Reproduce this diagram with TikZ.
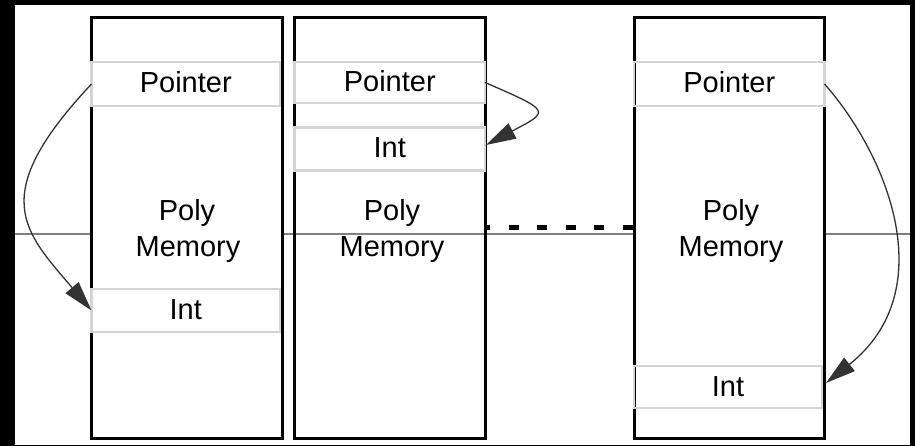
\documentclass[tikz,border=0pt]{standalone}
\usepackage{fontspec}
\setmainfont{Liberation Sans}
\usetikzlibrary{arrows.meta,calc}
\definecolor{cellgray}{HTML}{D4D4D4}
\definecolor{rulegray}{HTML}{808080}
\tikzset{
  membox/.style={draw=black, line width=3pt, outer sep=0pt, inner sep=0pt,
                 minimum height=420pt},
  cell/.style={draw=cellgray, line width=2.5pt, inner sep=0pt, outer sep=0pt,
               text height=20pt, text depth=2pt,
               font=\fontsize{29}{34}\selectfont},
  memtext/.style={anchor=base, inner sep=0pt, font=\fontsize{29}{34}\selectfont},
  link/.style={draw=black!80, line width=1.3pt,
               -{Triangle[length=30pt,width=17pt]}},
  gap/.style={draw=black, line width=5pt, dash pattern=on 10pt off 18.5pt,
              dash phase=5pt},
}
\begin{document}
\begin{tikzpicture}[x=1pt,y=-1pt]
  % frame
  \useasboundingbox (0,0) rectangle (915,446);
  \fill[black] (0,0) rectangle (915,446);
  \fill[white] (15,5) rectangle (910,445);

  % horizontal rule across the sheet
  \draw[rulegray, line width=1.2pt] (15,234) -- (910,234);

  % memory blocks
  \node[membox, fill=white, minimum width=191pt]   (m1) at (187,228) {};
  \node[membox, minimum width=190.5pt]             (m2) at (389.75,228) {};
  \node[membox, fill=white, minimum width=190.5pt] (m3) at (729.25,228) {};

  % cells
  \node[cell, minimum width=188.5pt, minimum height=44pt] (p1) at (185.75,84) {Pointer};
  \node[cell, minimum width=188.5pt, minimum height=43pt] (i1) at (185.75,310.5) {Int};
  \node[cell, minimum width=190.5pt, minimum height=41pt] (p2) at (389.75,82.5) {Pointer};
  \node[cell, minimum width=190.5pt, minimum height=43pt] (i2) at (389.75,149) {Int};
  \node[cell, minimum width=190.5pt, minimum height=44pt] (p3) at (729.25,84) {Pointer};
  \node[cell, minimum width=188pt,   minimum height=42pt] (i3) at (728,387) {Int};

  % block labels
  \node[memtext] (poly1) at (187,221) {Poly};
  \node[memtext] (mem1)  at (188,257) {Memory};
  \node[memtext] (poly2) at (392,221) {Poly};
  \node[memtext] (mem2)  at (392,257) {Memory};
  \node[memtext] (poly3) at (731,221) {Poly};
  \node[memtext] (mem3)  at (731,257) {Memory};

  % gap between blocks
  \draw[gap] (m2.east) -- (m3.west);

  % pointer links
  \draw[link] (p1.west) .. controls +(-105,112) and +(-68,-80) .. (i1.west);
  \draw[link] (p2.east) .. controls +(67,29) and +(64,-34) .. ($(i2.east)+(1,-4)$);
  \draw[link] (p3.east) .. controls +(62,70) and +(117,-93) .. ($(i3.east)+(4,-4)$);
\end{tikzpicture}
\end{document}
